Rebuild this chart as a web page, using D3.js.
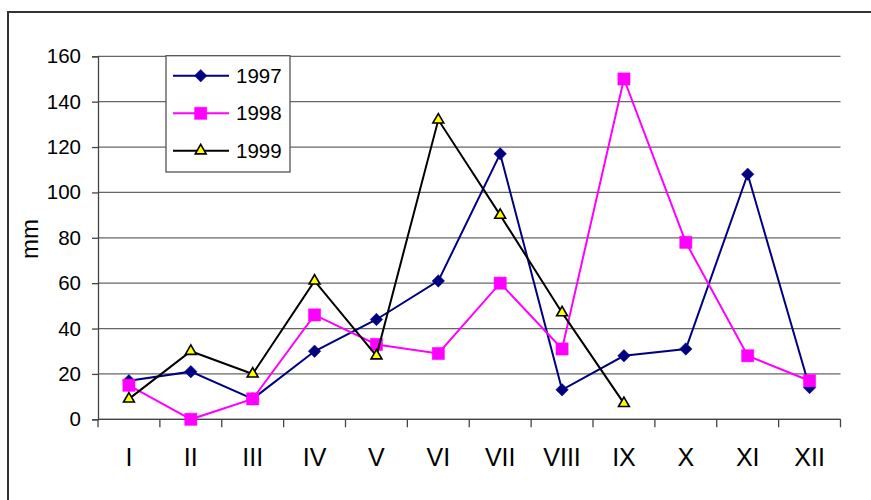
<!DOCTYPE html>
<html>
<head>
<meta charset="utf-8">
<script src="https://cdn.jsdelivr.net/npm/d3@7"></script>
<style>
  html, body { margin: 0; padding: 0; background: #fff; }
  svg { display: block; font-family: "Liberation Sans", Arial, sans-serif; }
</style>
</head>
<body>
<svg id="chart" width="871" height="500"></svg>
<script>
// Monthly precipitation (mm)
const months = ["I", "II", "III", "IV", "V", "VI", "VII", "VIII", "IX", "X", "XI", "XII"];
const values1997 = [17, 21, 9, 30, 44, 61, 117, 13, 28, 31, 108, 14];
const values1998 = [15, 0, 9, 46, 33, 29, 60, 31, 150, 78, 28, 17];
const values1999 = [9, 30, 20, 61, 28, 132, 90, 47, 7, null, null, null];
const yTicks = [0, 20, 40, 60, 80, 100, 120, 140, 160];
const seriesNames = ["1997", "1998", "1999"];

const series = [
  { name: seriesNames[0], values: values1997, stroke: "#000080", fill: "#000080", symbol: d3.symbolDiamond2, size: 100, outline: "#000080" },
  { name: seriesNames[1], values: values1998, stroke: "#FF00FF", fill: "#FF00FF", symbol: d3.symbolSquare2, size: 190, outline: "#FF00FF" },
  { name: seriesNames[2], values: values1999, stroke: "#000000", fill: "#FFFF00", symbol: d3.symbolTriangle2, size: 85, outline: "#000000" }
];

const svg = d3.select("#chart");
const plotLeft = 98, plotRight = 840.5, plotTop = 56.3, plotBottom = 419.3;

// Outer frame
svg.append("rect")
  .attr("x", 8).attr("y", 12)
  .attr("width", 900).attr("height", 600)
  .attr("fill", "none").attr("stroke", "#333").attr("stroke-width", 2);

const x = d3.scaleBand().domain(months).range([plotLeft, plotRight]).padding(0);
const y = d3.scaleLinear().domain([0, 160]).range([plotBottom, plotTop]);

// Horizontal gridlines
svg.append("g")
  .selectAll("line")
  .data(yTicks)
  .join("line")
  .attr("x1", plotLeft).attr("x2", plotRight)
  .attr("y1", d => y(d)).attr("y2", d => y(d))
  .attr("stroke", "#666").attr("stroke-width", 1.3);

// Y axis
const yAxis = svg.append("g")
  .attr("transform", `translate(${plotLeft},0)`)
  .call(d3.axisLeft(y).tickValues(yTicks).tickSize(6).tickPadding(11));
yAxis.select(".domain").attr("stroke", "#444").attr("stroke-width", 1.3);
yAxis.selectAll(".tick line").attr("stroke", "#444").attr("stroke-width", 1.3);
yAxis.selectAll("text").attr("font-size", 20.5).attr("fill", "#000")
  .attr("font-family", "Liberation Sans, Arial, sans-serif");

// X axis with ticks at category boundaries
const xAxisG = svg.append("g").attr("transform", `translate(0,${plotBottom})`);
xAxisG.append("line")
  .attr("x1", plotLeft).attr("x2", plotRight).attr("y1", 0).attr("y2", 0)
  .attr("stroke", "#444").attr("stroke-width", 1.3);
const boundaries = months.map(m => x(m)).concat([plotRight]);
xAxisG.selectAll("line.tick")
  .data(boundaries)
  .join("line")
  .attr("class", "tick")
  .attr("x1", d => d).attr("x2", d => d)
  .attr("y1", 0).attr("y2", 8)
  .attr("stroke", "#444").attr("stroke-width", 1.3);
xAxisG.selectAll("text")
  .data(months)
  .join("text")
  .attr("x", d => x(d) + x.bandwidth() / 2)
  .attr("y", 46.5)
  .attr("text-anchor", "middle")
  .attr("font-size", 25)
  .attr("fill", "#000")
  .text(d => d);

// Y axis title
svg.append("text")
  .attr("transform", `translate(37.7,239) rotate(-90)`)
  .attr("text-anchor", "middle")
  .attr("font-size", 24)
  .attr("fill", "#000")
  .text("mm");

const cx = m => x(m) + x.bandwidth() / 2;

// Series lines and markers
series.forEach(s => {
  const pts = months.map((m, i) => ({ m, v: s.values[i] })).filter(p => p.v !== null);
  const line = d3.line().x(p => cx(p.m)).y(p => y(p.v));
  const g = svg.append("g");
  g.append("path")
    .datum(pts)
    .attr("d", line)
    .attr("fill", "none")
    .attr("stroke", s.stroke)
    .attr("stroke-width", 2);
  g.selectAll("path.marker")
    .data(pts)
    .join("path")
    .attr("class", "marker")
    .attr("d", d3.symbol().type(s.symbol).size(s.size))
    .attr("transform", p => `translate(${cx(p.m)},${y(p.v)})`)
    .attr("fill", s.fill)
    .attr("stroke", s.outline)
    .attr("stroke-width", s.name === "1999" ? 1.6 : 0.5);
});

// Legend
const legend = svg.append("g");
legend.append("rect")
  .attr("x", 166).attr("y", 55.7)
  .attr("width", 124).attr("height", 116.3)
  .attr("fill", "#fff").attr("stroke", "#555").attr("stroke-width", 1.3);
const legendY = [75.7, 113.3, 150.7];
series.forEach((s, i) => {
  const gy = legendY[i];
  legend.append("line")
    .attr("x1", 173).attr("x2", 229).attr("y1", gy).attr("y2", gy)
    .attr("stroke", s.stroke).attr("stroke-width", 2);
  legend.append("path")
    .attr("d", d3.symbol().type(s.symbol).size(s.size))
    .attr("transform", `translate(200.7,${gy})`)
    .attr("fill", s.fill)
    .attr("stroke", s.outline)
    .attr("stroke-width", s.name === "1999" ? 1.6 : 0.5);
  legend.append("text")
    .attr("x", 236).attr("y", gy + 7)
    .attr("font-size", 20.5)
    .attr("fill", "#000")
    .text(s.name);
});
</script>
</body>
</html>
